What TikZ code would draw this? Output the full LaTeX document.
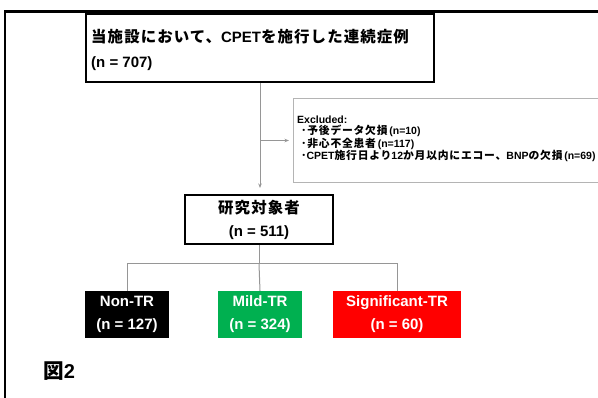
\documentclass[tikz,border=0pt]{standalone}
\usepackage{fontspec}
\setmainfont{Liberation Sans}
\newfontfamily\jp{Noto Sans CJK JP}[Scale=1.03,LetterSpace=7]
\usetikzlibrary{arrows.meta}
\definecolor{mildgreen}{RGB}{0,176,80}
\definecolor{sigred}{RGB}{255,0,0}
\definecolor{lgray}{RGB}{150,150,150}
\definecolor{bgray}{RGB}{180,180,180}
\begin{document}
\begin{tikzpicture}[x=1pt,y=-1pt,
  blackbox/.style={draw=black, line width=2pt, fill=white},
  conn/.style={draw=lgray, line width=1pt},
  tip/.style={-{Stealth[length=4.5pt,width=3.5pt]}},
  grp/.style={minimum height=47pt, text=white, align=center, inner sep=0pt,
    font=\fontsize{15}{23}\selectfont\bfseries},
  every node/.style={font=\bfseries}]
\useasboundingbox (0,0) rectangle (598,398);
\clip (0,0) rectangle (598,398);
% outer frame
\draw[line width=2.2pt] (5,400) -- (5,11.5) -- (600,11.5);
% top box
\node[blackbox, minimum width=348pt, minimum height=68pt, anchor=north west, inner sep=0pt] (top) at (85,13) {};
\node[anchor=west, align=left, inner sep=0pt, font=\fontsize{15}{25}\selectfont\bfseries] (toptext) at (91,49.5)
  {{\jp 当施設において、}CPET{\jp を施行した連続症例}\\(n = 707)};
% excluded box
\node[draw=bgray, line width=1pt, minimum width=320pt, minimum height=84pt, anchor=north west, inner sep=0pt] (excl) at (293,98) {};
\node[anchor=west, align=left, inner sep=0pt, font=\fontsize{10.5}{11.4}\selectfont\bfseries] (excltext) at (297,139)
  {Excluded:\\
   \hspace*{4pt}{\jp ･予後データ欠損}\,(n=10)\\
   \hspace*{4pt}{\jp ･非心不全患者}\,(n=117)\\
   \hspace*{4pt}{\jp ･}CPET{\jp 施行日より}12{\jp か月以内にエコー、}BNP{\jp の欠損}\,(n=69)};
% study box
\node[blackbox, minimum width=148pt, minimum height=49pt, align=center, inner sep=0pt,
  font=\fontsize{15}{23}\selectfont\bfseries] (study) at (259,219.5)
  {{\jp 研究対象者}\\(n = 511)};
% groups
\node[grp, fill=black, minimum width=84pt] (nontr) at (127,314.5) {Non-TR\\(n = 127)};
\node[grp, fill=mildgreen, minimum width=84pt] (mild) at (260,314.5) {Mild-TR\\(n = 324)};
\node[grp, fill=sigred, minimum width=128pt] (sig) at (397,314.5) {Significant-TR\\(n = 60)};
% connectors
\draw[conn, tip, shorten >=6pt] (top.south) -- (top.south |- study.north);
\draw[conn, tip, shorten >=4pt] (top.south |- excl.west) -- (excl.west);
\coordinate (bj) at (259,264);
\draw[conn] (study.south) -- (bj);
\draw[conn] (nontr.north) |- (sig.north |- bj) -- (sig.north);
\draw[conn] (bj) -- (mild.north);
% figure label
\node[anchor=west, inner sep=0pt, font=\fontsize{20}{24}\selectfont\bfseries] (fig) at (43,371) {{\jp 図}2};
\end{tikzpicture}
\end{document}
